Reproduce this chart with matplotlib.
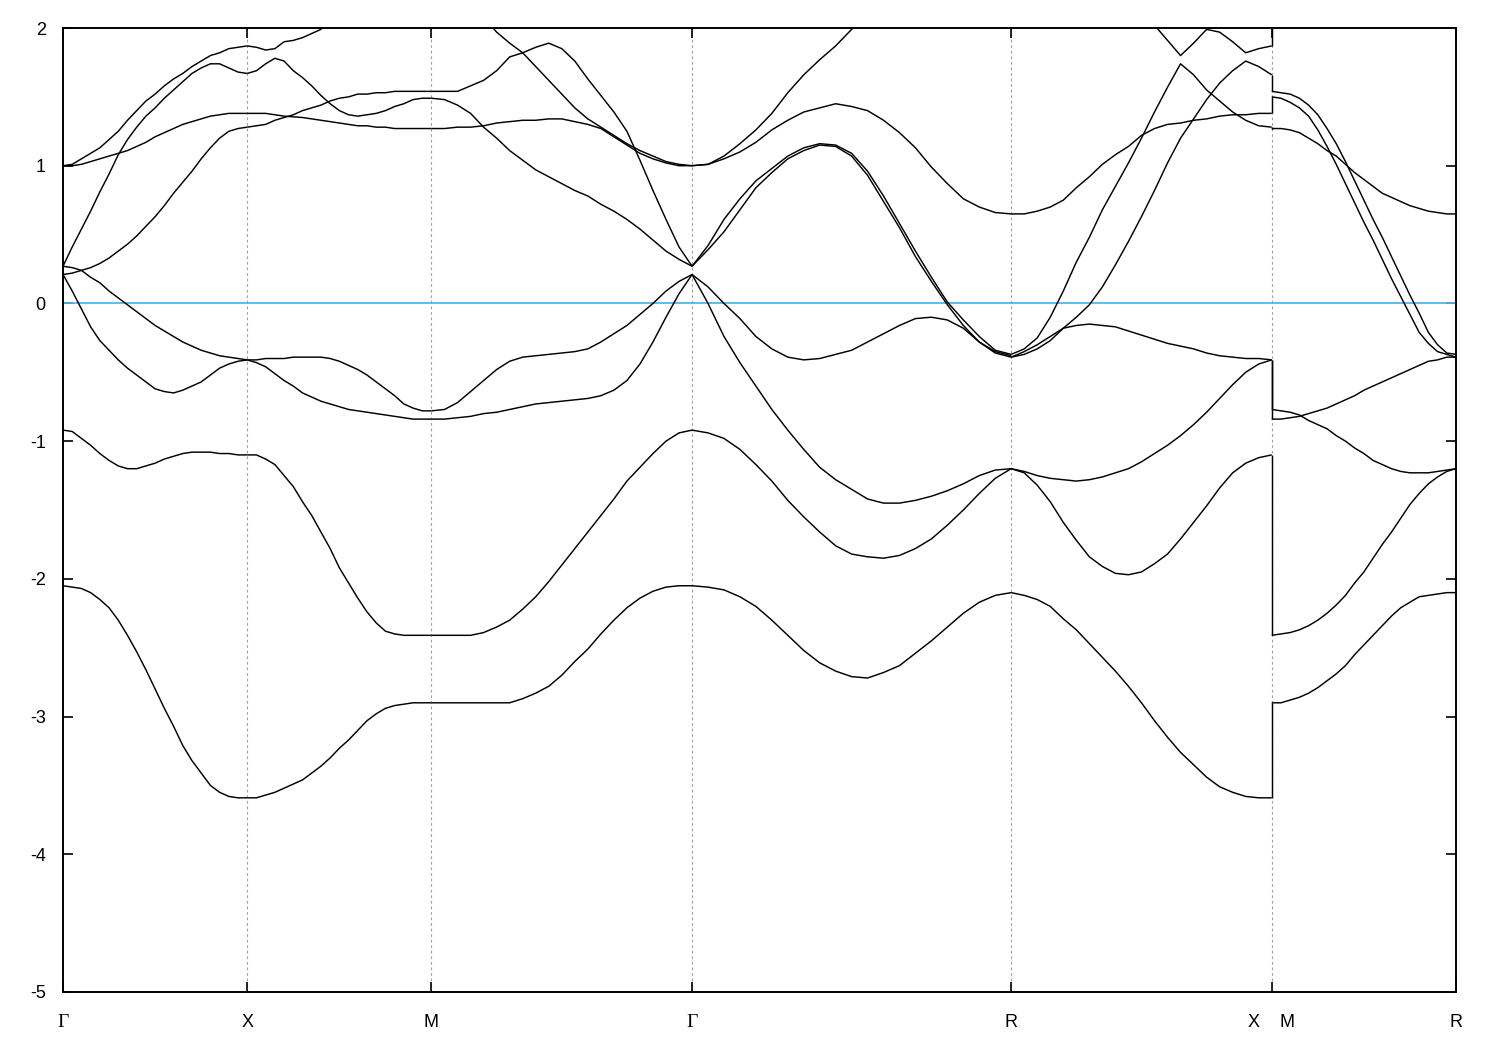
import numpy as np
import matplotlib
matplotlib.use("Agg")
import matplotlib.pyplot as plt

plt.rcParams['font.family'] = ['Liberation Sans', 'DejaVu Sans']
plt.rcParams['axes.unicode_minus'] = False

nan = np.nan

# ---------------- data ----------------
kpoint_labels = ["Γ", "X", "M", "Γ", "R", "X    M", "R"]
segment_lengths = [0.5, 0.5, np.sqrt(2) / 2, np.sqrt(3) / 2, np.sqrt(2) / 2, 0.5]  # 2π/a units
n_samples = 21          # readings per segment, evenly spaced along the segment
e_fermi = 0.0
y_ticks = [-5, -4, -3, -2, -1, 0, 1, 2]

# energies (eV) read along each segment
gamma_x = [
    [1.00, 1.01, 1.05, 1.09, 1.13, 1.19, 1.25, 1.33, 1.40, 1.47, 1.52, 1.58, 1.63, 1.67, 1.72, 1.76, 1.80, 1.82, 1.85, 1.86, 1.87],
    [0.27, 0.41, 0.54, 0.67, 0.81, 0.94, 1.08, 1.19, 1.28, 1.36, 1.42, 1.49, 1.55, 1.61, 1.67, 1.71, 1.74, 1.74, 1.71, 1.68, 1.67],
    [1.00, 1.00, 1.01, 1.03, 1.05, 1.07, 1.09, 1.11, 1.14, 1.17, 1.21, 1.24, 1.27, 1.30, 1.32, 1.34, 1.36, 1.37, 1.38, 1.38, 1.38],
    [0.21, 0.22, 0.24, 0.26, 0.29, 0.33, 0.38, 0.43, 0.49, 0.56, 0.63, 0.71, 0.80, 0.88, 0.96, 1.05, 1.13, 1.20, 1.25, 1.27, 1.28],
    [0.27, 0.26, 0.24, 0.19, 0.15, 0.09, 0.04, -0.01, -0.06, -0.11, -0.16, -0.20, -0.24, -0.28, -0.31, -0.34, -0.36, -0.38, -0.39, -0.40, -0.41],
    [0.21, 0.09, -0.04, -0.17, -0.27, -0.34, -0.41, -0.47, -0.52, -0.57, -0.62, -0.64, -0.65, -0.63, -0.60, -0.57, -0.52, -0.47, -0.44, -0.42, -0.41],
    [-0.92, -0.93, -0.98, -1.03, -1.09, -1.14, -1.18, -1.20, -1.20, -1.18, -1.16, -1.13, -1.11, -1.09, -1.08, -1.08, -1.08, -1.09, -1.09, -1.10, -1.10],
    [-2.05, -2.06, -2.07, -2.10, -2.15, -2.21, -2.30, -2.41, -2.53, -2.66, -2.80, -2.94, -3.07, -3.21, -3.32, -3.41, -3.50, -3.55, -3.58, -3.59, -3.59],
]

x_m = [
    [1.87, 1.86, 1.84, 1.85, 1.90, 1.91, 1.93, 1.96, 1.99, 2.08, nan, nan, nan, nan, nan, nan, nan, nan, nan, nan, nan],
    [1.67, 1.69, 1.74, 1.78, 1.76, 1.69, 1.64, 1.58, 1.51, 1.45, 1.40, 1.37, 1.36, 1.37, 1.38, 1.40, 1.43, 1.45, 1.48, 1.49, 1.49],
    [1.38, 1.38, 1.38, 1.37, 1.36, 1.355, 1.35, 1.34, 1.33, 1.32, 1.31, 1.30, 1.29, 1.29, 1.28, 1.28, 1.27, 1.27, 1.27, 1.27, 1.27],
    [1.28, 1.29, 1.30, 1.33, 1.35, 1.37, 1.40, 1.42, 1.44, 1.47, 1.49, 1.50, 1.52, 1.52, 1.53, 1.53, 1.54, 1.54, 1.54, 1.54, 1.54],
    [-0.41, -0.41, -0.40, -0.40, -0.40, -0.39, -0.39, -0.39, -0.39, -0.40, -0.42, -0.45, -0.48, -0.52, -0.57, -0.62, -0.67, -0.73, -0.76, -0.78, -0.78],
    [-0.41, -0.43, -0.46, -0.51, -0.56, -0.60, -0.65, -0.68, -0.71, -0.73, -0.75, -0.77, -0.78, -0.79, -0.80, -0.81, -0.82, -0.83, -0.84, -0.84, -0.84],
    [-1.10, -1.10, -1.13, -1.17, -1.25, -1.33, -1.44, -1.54, -1.66, -1.78, -1.92, -2.03, -2.14, -2.24, -2.32, -2.38, -2.40, -2.41, -2.41, -2.41, -2.41],
    [-3.59, -3.59, -3.57, -3.55, -3.52, -3.49, -3.46, -3.41, -3.36, -3.30, -3.23, -3.17, -3.10, -3.03, -2.98, -2.94, -2.92, -2.91, -2.90, -2.90, -2.90],
]

m_gamma = [
    [nan, nan, nan, nan, 2.08, 1.97, 1.89, 1.82, 1.72, 1.62, 1.52, 1.42, 1.34, 1.28, 1.22, 1.16, 1.11, 1.07, 1.03, 1.01, 1.00],
    [1.54, 1.54, 1.54, 1.58, 1.62, 1.69, 1.79, 1.82, 1.86, 1.89, 1.85, 1.76, 1.63, 1.51, 1.39, 1.25, 1.04, 0.82, 0.61, 0.41, 0.27],
    [1.49, 1.48, 1.44, 1.38, 1.28, 1.20, 1.11, 1.04, 0.97, 0.92, 0.87, 0.82, 0.78, 0.72, 0.67, 0.61, 0.54, 0.46, 0.38, 0.32, 0.27],
    [1.27, 1.27, 1.28, 1.28, 1.29, 1.31, 1.32, 1.33, 1.33, 1.34, 1.34, 1.32, 1.30, 1.27, 1.21, 1.15, 1.09, 1.05, 1.02, 1.00, 1.00],
    [-0.78, -0.77, -0.72, -0.64, -0.56, -0.48, -0.42, -0.39, -0.38, -0.37, -0.36, -0.35, -0.33, -0.28, -0.22, -0.16, -0.08, 0.00, 0.09, 0.16, 0.21],
    [-0.84, -0.84, -0.83, -0.82, -0.80, -0.79, -0.77, -0.75, -0.73, -0.72, -0.71, -0.70, -0.69, -0.67, -0.63, -0.56, -0.44, -0.28, -0.10, 0.07, 0.21],
    [-2.41, -2.41, -2.41, -2.41, -2.39, -2.35, -2.30, -2.22, -2.13, -2.02, -1.90, -1.78, -1.66, -1.54, -1.42, -1.29, -1.19, -1.09, -1.00, -0.94, -0.92],
    [-2.90, -2.90, -2.90, -2.90, -2.90, -2.90, -2.90, -2.87, -2.83, -2.78, -2.70, -2.60, -2.51, -2.40, -2.30, -2.21, -2.14, -2.09, -2.06, -2.05, -2.05],
]

gamma_r = [
    [1.00, 1.01, 1.07, 1.16, 1.26, 1.38, 1.53, 1.66, 1.77, 1.87, 1.99, 2.10, nan, nan, nan, nan, nan, nan, nan, nan, nan],
    [1.00, 1.01, 1.05, 1.10, 1.17, 1.26, 1.33, 1.39, 1.42, 1.45, 1.43, 1.40, 1.33, 1.24, 1.13, 0.99, 0.87, 0.76, 0.70, 0.66, 0.65],
    [0.27, 0.42, 0.61, 0.76, 0.89, 0.98, 1.07, 1.13, 1.16, 1.15, 1.09, 0.96, 0.78, 0.58, 0.38, 0.19, 0.01, -0.12, -0.24, -0.34, -0.37],
    [0.27, 0.39, 0.52, 0.68, 0.84, 0.95, 1.05, 1.11, 1.15, 1.14, 1.07, 0.93, 0.74, 0.55, 0.34, 0.16, -0.01, -0.16, -0.28, -0.36, -0.39],
    [0.21, 0.12, 0.00, -0.11, -0.24, -0.33, -0.39, -0.41, -0.40, -0.37, -0.34, -0.28, -0.22, -0.16, -0.11, -0.10, -0.12, -0.18, -0.28, -0.35, -0.38],
    [0.21, 0.00, -0.24, -0.43, -0.60, -0.77, -0.92, -1.06, -1.19, -1.28, -1.35, -1.42, -1.45, -1.45, -1.43, -1.40, -1.36, -1.31, -1.25, -1.21, -1.20],
    [-0.92, -0.94, -0.98, -1.06, -1.17, -1.29, -1.43, -1.55, -1.66, -1.76, -1.82, -1.84, -1.85, -1.83, -1.78, -1.71, -1.61, -1.50, -1.38, -1.27, -1.20],
    [-2.05, -2.06, -2.08, -2.13, -2.20, -2.30, -2.41, -2.52, -2.61, -2.67, -2.71, -2.72, -2.68, -2.63, -2.54, -2.45, -2.35, -2.25, -2.17, -2.12, -2.10],
]

r_x = [
    [nan, nan, nan, nan, nan, nan, nan, nan, nan, nan, 2.12, 2.02, 1.91, 1.80, 1.89, 1.99, 1.97, 1.90, 1.82, 1.85, 1.87],
    [0.65, 0.65, 0.67, 0.70, 0.75, 0.84, 0.92, 1.01, 1.08, 1.14, 1.22, 1.27, 1.30, 1.31, 1.33, 1.34, 1.36, 1.37, 1.37, 1.38, 1.38],
    [-0.37, -0.33, -0.25, -0.10, 0.09, 0.30, 0.48, 0.68, 0.85, 1.02, 1.20, 1.39, 1.57, 1.74, 1.66, 1.55, 1.47, 1.39, 1.33, 1.29, 1.28],
    [-0.39, -0.37, -0.33, -0.27, -0.18, -0.10, -0.01, 0.12, 0.28, 0.45, 0.63, 0.82, 1.02, 1.20, 1.34, 1.48, 1.60, 1.69, 1.76, 1.72, 1.66],
    [-0.39, -0.35, -0.30, -0.24, -0.18, -0.16, -0.15, -0.16, -0.17, -0.20, -0.23, -0.26, -0.29, -0.31, -0.33, -0.36, -0.38, -0.39, -0.40, -0.40, -0.41],
    [-1.20, -1.22, -1.25, -1.27, -1.28, -1.29, -1.28, -1.26, -1.23, -1.20, -1.15, -1.09, -1.03, -0.96, -0.88, -0.79, -0.69, -0.59, -0.50, -0.44, -0.41],
    [-1.20, -1.23, -1.32, -1.44, -1.59, -1.72, -1.84, -1.91, -1.96, -1.97, -1.95, -1.89, -1.82, -1.71, -1.59, -1.47, -1.34, -1.23, -1.16, -1.12, -1.10],
    [-2.10, -2.12, -2.15, -2.20, -2.29, -2.37, -2.47, -2.57, -2.67, -2.78, -2.90, -3.03, -3.15, -3.26, -3.35, -3.44, -3.51, -3.55, -3.58, -3.59, -3.59],
]

m_r = [
    [2.15, nan, nan, nan, nan, nan, nan, nan, nan, nan, nan, nan, nan, nan, nan, nan, nan, nan, nan, nan, nan],
    [1.27, 1.27, 1.26, 1.24, 1.20, 1.16, 1.11, 1.07, 1.01, 0.95, 0.90, 0.85, 0.80, 0.77, 0.74, 0.71, 0.69, 0.67, 0.66, 0.65, 0.65],
    [1.54, 1.53, 1.52, 1.49, 1.44, 1.37, 1.27, 1.16, 1.03, 0.89, 0.75, 0.61, 0.48, 0.34, 0.20, 0.06, -0.07, -0.21, -0.30, -0.36, -0.37],
    [1.50, 1.49, 1.46, 1.42, 1.36, 1.26, 1.14, 1.01, 0.87, 0.73, 0.59, 0.46, 0.32, 0.18, 0.05, -0.08, -0.21, -0.29, -0.35, -0.37, -0.39],
    [-0.84, -0.84, -0.83, -0.82, -0.80, -0.78, -0.76, -0.73, -0.70, -0.67, -0.63, -0.60, -0.57, -0.54, -0.51, -0.48, -0.45, -0.42, -0.41, -0.39, -0.39],
    [-0.77, -0.78, -0.79, -0.81, -0.85, -0.88, -0.91, -0.96, -1.00, -1.05, -1.09, -1.14, -1.17, -1.20, -1.22, -1.23, -1.23, -1.23, -1.22, -1.21, -1.20],
    [-2.41, -2.40, -2.39, -2.37, -2.34, -2.30, -2.25, -2.19, -2.12, -2.03, -1.95, -1.85, -1.75, -1.66, -1.56, -1.46, -1.38, -1.31, -1.26, -1.22, -1.20],
    [-2.90, -2.90, -2.88, -2.86, -2.83, -2.79, -2.74, -2.69, -2.63, -2.55, -2.48, -2.41, -2.34, -2.27, -2.21, -2.17, -2.13, -2.12, -2.11, -2.10, -2.10],
]

segments = [gamma_x, x_m, m_gamma, gamma_r, r_x, m_r]

# ---------------- plot ----------------
W, H = 1500, 1050
fig = plt.figure(figsize=(W / 100, H / 100), dpi=100)
ax = fig.add_axes([63 / W, (H - 992) / H, (1456 - 63) / W, (992 - 28) / H])

nodes = np.concatenate([[0.0], np.cumsum(segment_lengths)])
frac = np.linspace(0.0, 1.0, n_samples)

line_kw = dict(color='black', lw=1.05, solid_joinstyle='round', solid_capstyle='butt', zorder=3)
for i, bands in enumerate(segments):
    k = nodes[i] + frac * segment_lengths[i]
    for e in bands:
        ax.plot(k, np.asarray(e, dtype=float), **line_kw)

# discontinuity at X|M: each band jumps from its X value to its M value
end_vals = sorted(b[-1] for b in r_x if np.isfinite(b[-1]))
start_vals = sorted(b[0] for b in m_r if np.isfinite(b[0]))
for a, b in zip(end_vals, start_vals):
    ax.plot([nodes[5], nodes[5]], [a, b], **line_kw)

# Fermi level
ax.axhline(e_fermi, color='#56b4e9', lw=1.3, zorder=2)

# high-symmetry guides
for xv in nodes[1:-1]:
    ax.axvline(xv, color='#a0a0a0', lw=0.8, ls=(0, (2.5, 2.5)), zorder=1)

ax.set_xlim(nodes[0], nodes[-1])
ax.set_ylim(-5, 2)

ax.set_xticks(nodes)
ax.set_xticklabels(kpoint_labels, fontsize=13)
for lab in ax.get_xticklabels():
    if lab.get_text() == "Γ":
        lab.set_fontfamily(['Liberation Serif', 'DejaVu Serif'])
        lab.set_fontsize(14)
ax.set_yticks(y_ticks)
ax.set_yticklabels([str(v) for v in y_ticks], fontsize=13)

ax.tick_params(axis='both', direction='in', length=7, width=1.2,
               top=True, right=True, bottom=True, left=True)
ax.tick_params(axis='x', pad=15.5)
ax.tick_params(axis='y', pad=12.5)
for s in ax.spines.values():
    s.set_linewidth(1.4)
    s.set_zorder(5)

fig.savefig("out.png", dpi=100)
